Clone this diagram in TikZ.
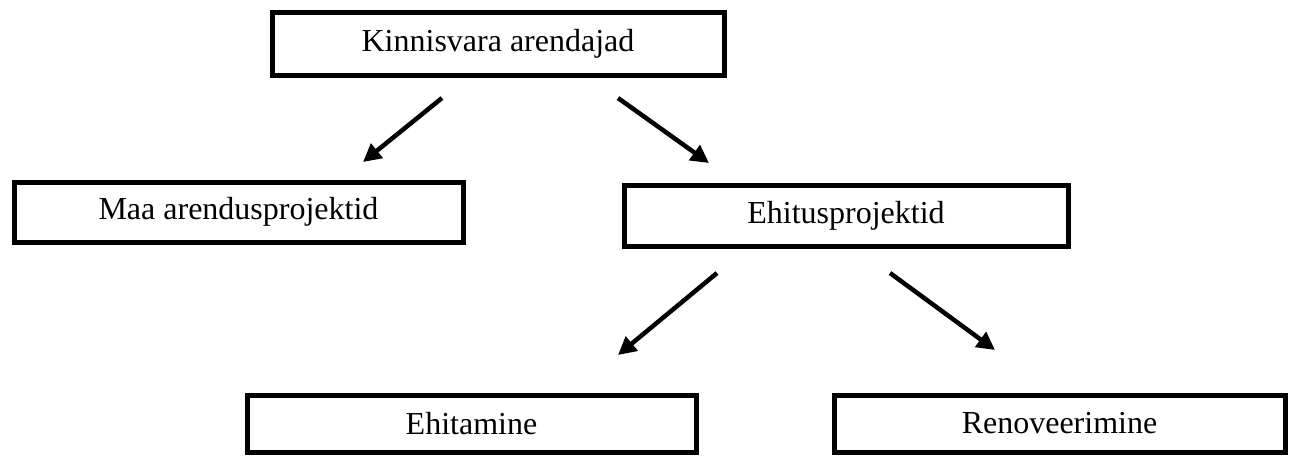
\documentclass[tikz,border=0pt]{standalone}
\usepackage{fontspec}
\setmainfont{Liberation Serif}
\usetikzlibrary{arrows.meta}
\begin{document}
\begin{tikzpicture}[x=1pt,y=-1pt,
  box/.style={draw,line width=5pt,inner sep=0pt,minimum width=450pt,
    font=\fontsize{32}{38}\selectfont},
  arr/.style={line width=4.5pt,-{Triangle[length=18pt,width=18pt]}}]
  \useasboundingbox (0,0) rectangle (1296,456);
  % boxes
  \node[box,minimum width=452pt,minimum height=63pt] (dev) at (498,43.5) {Kinnisvara arendajad};
  \node[box,minimum width=449pt,minimum height=60pt] (land) at (238.5,212) {Maa arendusprojektid};
  \node[box,minimum width=444pt,minimum height=61pt] (build) at (846,215.5) {Ehitusprojektid};
  \node[box,minimum width=449pt,minimum height=57pt] (constr) at (471.5,423.5) {Ehitamine};
  \node[box,minimum width=451pt,minimum height=57pt] (renov) at (1059.5,423.5) {Renoveerimine};
  % arrow ends
  \coordinate (a1) at (442,98);  \coordinate (b1) at (363,162);
  \coordinate (a2) at (618,98);  \coordinate (b2) at (709,163);
  \coordinate (a3) at (717,273); \coordinate (b3) at (618,355);
  \coordinate (a4) at (890,273); \coordinate (b4) at (995,350);
  \foreach \s/\e in {a1/b1, a2/b2, a3/b3, a4/b4}
    \draw[arr] (\s) -- (\e);
\end{tikzpicture}
\end{document}
